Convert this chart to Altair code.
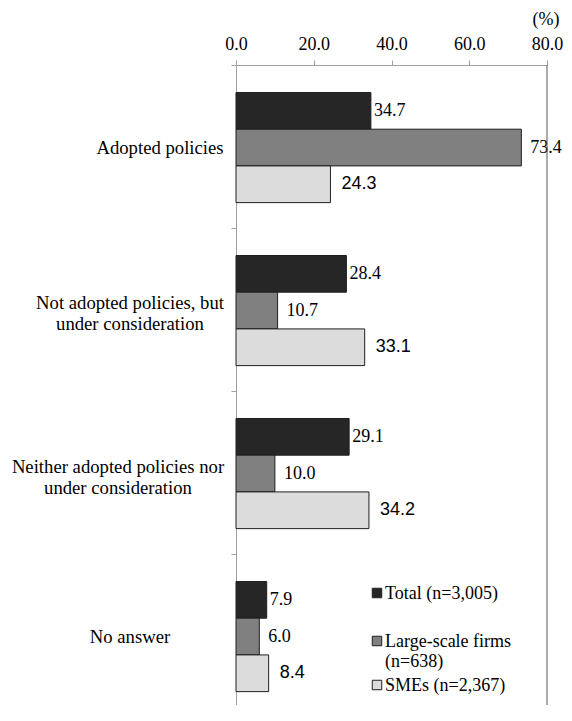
import altair as alt
import pandas as pd

# ---- data ----
categories = [
    "Adopted policies",
    "Not adopted policies, but under consideration",
    "Neither adopted policies nor under consideration",
    "No answer",
]
category_lines = [
    ["Adopted policies"],
    ["Not adopted policies, but", "under consideration"],
    ["Neither adopted policies nor", "under consideration"],
    ["No answer"],
]
series = ["Total (n=3,005)", "Large-scale firms (n=638)", "SMEs (n=2,367)"]
legend_lines = [["Total (n=3,005)"], ["Large-scale firms", "(n=638)"], ["SMEs (n=2,367)"]]
total = [34.7, 28.4, 29.1, 7.9]
large = [73.4, 10.7, 10.0, 6.0]
smes = [24.3, 33.1, 34.2, 8.4]
x_ticks = [0, 20, 40, 60, 80]
unit_label = "(%)"

# ---- style / layout ----
colors = ["#262626", "#808080", "#dcdcdc"]
W = 311          # plot width
H_VIEW = 640     # visible plot height (page must not scroll)
H_RANGE = 652    # full category range (last band runs off the bottom edge)
SERIF = "Liberation Serif"
SANS = "Liberation Sans"

rows = []
for vals, s in zip([total, large, smes], series):
    for c, v in zip(categories, vals):
        rows.append({"category": c, "series": s, "value": v})
df = pd.DataFrame(rows)

cat_df = pd.DataFrame({"category": categories, "lines": category_lines})
leg_df = pd.DataFrame({"series": series, "lines": legend_lines})

y_enc = alt.Y(
    "category:N",
    sort=categories,
    scale=alt.Scale(domain=categories, paddingInner=0, paddingOuter=0, range=[0, H_RANGE]),
    axis=alt.Axis(
        orient="left", labels=False, title=None, grid=False, ticks=True,
        bandPosition=0, tickSize=5, domainColor="#a0a0a0", tickColor="#a0a0a0",
    ),
)
yoff_enc = alt.YOffset(
    "series:N", sort=series,
    scale=alt.Scale(domain=series, paddingOuter=0.72, paddingInner=0, align=0.52),
)
x_enc = alt.X(
    "value:Q",
    scale=alt.Scale(domain=[0, 80], nice=False, zero=True),
    axis=alt.Axis(
        orient="top", values=x_ticks, format=".1f", title=None, grid=False,
        tickSize=5, domainColor="#a0a0a0", tickColor="#a0a0a0",
        labelFont=SERIF, labelFontSize=18, labelColor="black", labelPadding=7,
        labelFlush=False,
    ),
)
color_enc = alt.Color("series:N", scale=alt.Scale(domain=series, range=colors), legend=None)

bars = alt.Chart(df).mark_bar(stroke="#1f1f1f", strokeWidth=1).encode(
    x=x_enc, y=y_enc, yOffset=yoff_enc, color=color_enc
)

label_styles = [(SERIF, 3), (SERIF, 9), (SANS, 11)]
labels = []
for s, (font, dx) in zip(series, label_styles):
    labels.append(
        alt.Chart(df)
        .transform_filter(alt.datum.series == s)
        .mark_text(align="left", baseline="middle", dx=dx, font=font, fontSize=18, color="black")
        .encode(x="value:Q", y=alt.Y("category:N", sort=categories), yOffset=alt.YOffset("series:N", sort=series),
                text=alt.Text("value:Q", format=".1f"))
    )

cat_centers = [-76, -106, -118, -106]
cat_dy = [1.5, -7, -5.5, 1.5]
cat_layers = []
for c, cx, dy in zip(categories, cat_centers, cat_dy):
    cat_layers.append(
        alt.Chart(cat_df)
        .transform_filter(alt.datum.category == c)
        .mark_text(align="center", baseline="middle", dy=dy, font=SERIF, fontSize=18.7, lineHeight=21, color="black")
        .encode(x=alt.value(cx), y=alt.Y("category:N", sort=categories), text="lines")
    )

border = alt.Chart(pd.DataFrame({"k": [0]})).mark_rule(color="#595959", strokeWidth=1).encode(
    x=alt.value(W), y=alt.value(0), y2=alt.value(H_RANGE)
)

unit = alt.Chart(pd.DataFrame({"t": [unit_label]})).mark_text(
    font=SERIF, fontSize=18, align="center", baseline="middle", color="black"
).encode(x=alt.value(310), y=alt.value(-45), text="t:N")

leg_y = [528, 576, 620]
leg_layers = []
for s, ly in zip(series, leg_y):
    base = alt.Chart(leg_df).transform_filter(alt.datum.series == s)
    leg_layers.append(
        base.mark_square(size=90, stroke="#1f1f1f", strokeWidth=1, opacity=1).encode(
            x=alt.value(141), y=alt.value(ly), color=color_enc
        )
    )
    leg_layers.append(
        base.mark_text(align="left", baseline="alphabetic", font=SERIF, fontSize=18, lineHeight=20, color="black").encode(
            x=alt.value(149), y=alt.value(ly + 6), text="lines"
        )
    )

chart = (
    alt.layer(bars, *labels, *cat_layers, border, unit, *leg_layers)
    .properties(
        width=W, height=H_VIEW,
        autosize=alt.AutoSizeParams(type="none"),
        padding={"left": 228, "top": 57, "right": 17, "bottom": 0},
    )
    .configure_view(stroke=None)
)

chart.save("out.html", embed_options={"renderer": "svg", "actions": False})
